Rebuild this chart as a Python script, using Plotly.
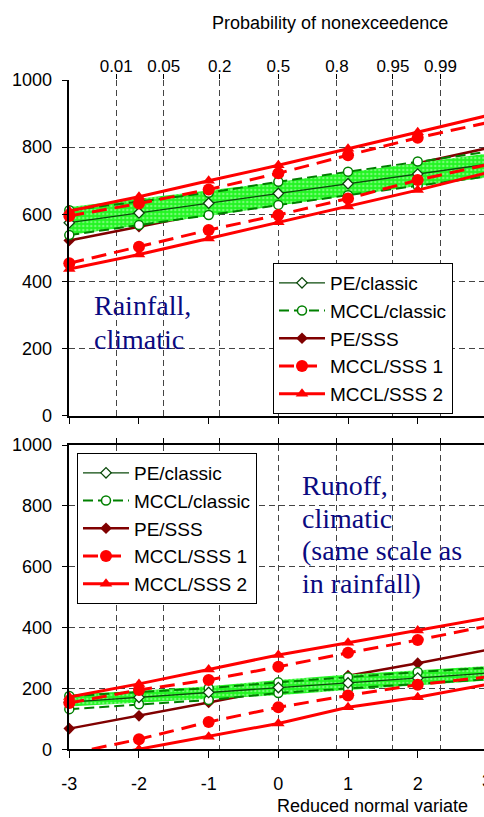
import plotly.graph_objects as go
from statistics import NormalDist

# Reduced normal variate at which each series is evaluated
z = [-3, -2, -1, 0, 1, 2, 3]

# Probability-of-nonexceedence ticks on the top axis
prob_ticks = [0.01, 0.05, 0.2, 0.5, 0.8, 0.95, 0.99]
prob_labels = ["0.01", "0.05", "0.2", "0.5", "0.8", "0.95", "0.99"]

y_ticks = [0, 200, 400, 600, 800, 1000]
x_ticks = [-3, -2, -1, 0, 1, 2, 3]
x_labels = ["-3", "-2", "-1", "0", "1", "2", "3"]

# Rainfall, climatic
r_pe_classic = [575, 604, 633, 662, 691, 720, 749]
r_mccl_classic_hi = [612, 638, 664, 697, 727, 757, 786]
r_mccl_classic_lo = [538, 568, 598, 628, 657, 685, 713]
r_pe_sss = [522, 563, 604, 650, 700, 752, 797]
r_mccl_sss1_hi = [595, 632, 674, 722, 776, 828, 873]
r_mccl_sss1_lo = [454, 503, 553, 598, 647, 702, 748]
r_mccl_sss2_hi = [610, 652, 700, 746, 795, 844, 894]
r_mccl_sss2_lo = [437, 480, 528, 576, 623, 672, 724]
r_band_hi = [622, 646, 670, 696, 725, 753, 781]
r_band_lo = [538, 566, 595, 626, 656, 684, 709]

# Runoff, climatic
f_pe_classic = [155, 171, 187, 203, 218, 234, 250]
f_mccl_classic_hi = [175, 188, 201, 220, 237, 254, 268]
f_mccl_classic_lo = [132, 148, 162, 185, 200, 215, 230]
f_pe_sss = [68, 110, 154, 198, 242, 283, 327]
f_mccl_sss1_hi = [152, 195, 228, 271, 317, 359, 405]
f_mccl_sss1_lo = [-15, 33, 90, 138, 177, 212, 238]
f_mccl_sss2_hi = [172, 215, 262, 310, 350, 390, 432]
f_mccl_sss2_lo = [-42, 0, 41, 85, 138, 171, 213]
f_band_hi = [180, 192, 207, 228, 246, 260, 274]
f_band_lo = [141, 153, 165, 178, 195, 211, 226]

prob_z = [NormalDist().inv_cdf(p) for p in prob_ticks]

W, H = 484, 817
X_LEFT_PX = 69.3
PX_PER_UNIT = 69.68
X_MAX = -3 + (W - X_LEFT_PX) / PX_PER_UNIT

def py(px):
    return 1 - px / H

top_dom = [py(415.7), py(80)]
bot_dom = [py(749.3), py(445)]
x_dom = [X_LEFT_PX / W, 1.0]

SANS = "Arial, Liberation Sans, sans-serif"
SERIF = "Liberation Serif, Times New Roman, serif"

DKGREEN = "#0b4a0b"
GREEN = "#008000"
DKRED = "#800000"
RED = "#ff0000"
GRID = "#444444"

fig = go.Figure()


def add_panel(xa, ya, top_xa, legend, d, clip_low):
    (pe_c, mc_hi, mc_lo, pe_s, s1_hi, s1_lo, s2_hi, s2_lo, b_hi, b_lo) = d
    common = dict(xaxis=xa, yaxis=ya, legend=legend, cliponaxis=False)
    # PE/SSS sits beneath the simulation band
    fig.add_trace(go.Scatter(x=z, y=pe_s, mode="lines+markers", name="PE/SSS",
                             line=dict(color=DKRED, width=2.5),
                             marker=dict(symbol="diamond", size=9, color=DKRED),
                             legendrank=3, **common))
    # simulation band
    fig.add_trace(go.Scatter(x=z, y=b_lo, mode="lines", line=dict(width=0, color="#33ff33"),
                             showlegend=False, hoverinfo="skip", **common))
    fig.add_trace(go.Scatter(x=z, y=b_hi, mode="lines", line=dict(width=0, color="#33ff33"),
                             fill="tonexty",
                             fillpattern=dict(shape=".", bgcolor="#22f522", fgcolor="#c8ffc8",
                                              size=4, solidity=0.3),
                             showlegend=False, hoverinfo="skip", **common))
    for i, yy in enumerate([mc_hi, mc_lo]):
        fig.add_trace(go.Scatter(x=z, y=yy, mode="lines+markers", name="MCCL/classic",
                                 line=dict(color=GREEN, width=2, dash="10px,5px"),
                                 marker=dict(symbol="circle", size=9, color="white",
                                             line=dict(width=1.5, color=GREEN)),
                                 showlegend=(i == 0), legendrank=2, **common))
    fig.add_trace(go.Scatter(x=z, y=pe_c, mode="lines+markers", name="PE/classic",
                             line=dict(color=DKGREEN, width=1.3),
                             marker=dict(symbol="diamond", size=8, color="white",
                                         line=dict(width=1.3, color=DKGREEN)),
                             legendrank=1, **common))
    for i, yy in enumerate([s1_hi, s1_lo]):
        c = dict(common)
        if i == 1 and clip_low:
            c["cliponaxis"] = True
        fig.add_trace(go.Scatter(x=z, y=yy, mode="lines+markers", name="MCCL/SSS 1",
                                 line=dict(color=RED, width=3, dash="15px,8px"),
                                 marker=dict(symbol="circle", size=12, color=RED),
                                 showlegend=(i == 0), legendrank=4, **c))
    for i, yy in enumerate([s2_hi, s2_lo]):
        c = dict(common)
        if i == 1 and clip_low:
            c["cliponaxis"] = True
        fig.add_trace(go.Scatter(x=z, y=yy, mode="lines+markers", name="MCCL/SSS 2",
                                 line=dict(color=RED, width=3),
                                 marker=dict(symbol="triangle-up", size=11, color=RED),
                                 showlegend=(i == 0), legendrank=5, **c))
    # empty trace so the probability axis on top of the panel is drawn
    fig.add_trace(go.Scatter(x=[], y=[], xaxis=top_xa, yaxis=ya, showlegend=False,
                             hoverinfo="skip"))


add_panel("x", "y", "x3", "legend",
          (r_pe_classic, r_mccl_classic_hi, r_mccl_classic_lo, r_pe_sss,
           r_mccl_sss1_hi, r_mccl_sss1_lo, r_mccl_sss2_hi, r_mccl_sss2_lo,
           r_band_hi, r_band_lo), False)
add_panel("x2", "y2", "x4", "legend2",
          (f_pe_classic, f_mccl_classic_hi, f_mccl_classic_lo, f_pe_sss,
           f_mccl_sss1_hi, f_mccl_sss1_lo, f_mccl_sss2_hi, f_mccl_sss2_lo,
           f_band_hi, f_band_lo), True)

tick_font = dict(family=SANS, size=18, color="black")

bottom_x = dict(domain=x_dom, range=[-3, X_MAX], tickvals=x_ticks, ticktext=x_labels,
                ticks="outside", ticklen=7, tickcolor="black", showline=True,
                linecolor="black", linewidth=1.5, showgrid=False, zeroline=False,
                tickfont=tick_font, automargin=False, fixedrange=True)
left_y = dict(range=[0, 1000], tickvals=y_ticks, ticks="outside", ticklen=6,
              tickcolor="black", showline=True, linecolor="black", linewidth=1.5,
              showgrid=True, gridcolor=GRID, gridwidth=1, griddash="6px,4px",
              zeroline=False, tickfont=tick_font, ticklabelstandoff=6,
              automargin=False, fixedrange=True)
top_x = dict(domain=x_dom, range=[-3, X_MAX], tickvals=prob_z, ticktext=prob_labels,
             side="top", ticks="outside", ticklen=5, tickcolor="black", showgrid=True,
             gridcolor=GRID, gridwidth=1, griddash="6px,4px", zeroline=False,
             tickfont=dict(family=SANS, size=17, color="black"), automargin=False,
             ticklabelstandoff=-5, fixedrange=True)

legend_common = dict(xanchor="left", yanchor="top", bgcolor="white", bordercolor="black",
                     borderwidth=1, font=dict(family=SANS, size=19, color="black"),
                     tracegroupgap=0, traceorder="normal", itemwidth=46)

fig.update_layout(
    width=W, height=H, margin=dict(l=0, r=0, t=0, b=0),
    plot_bgcolor="white", paper_bgcolor="white",
    xaxis=dict(bottom_x, anchor="y", showticklabels=False),
    yaxis=dict(left_y, domain=top_dom, anchor="x"),
    xaxis2=dict(bottom_x, anchor="y2", showticklabels=True, ticklabelstandoff=10),
    yaxis2=dict(left_y, domain=bot_dom, anchor="x2"),
    xaxis3=dict(top_x, overlaying="x", anchor="y", showline=False, showticklabels=True),
    xaxis4=dict(top_x, overlaying="x2", anchor="y2", showline=True, linecolor="black",
                linewidth=1.5, showticklabels=False),
    legend=dict(legend_common, x=273 / W, y=py(263)),
    legend2=dict(legend_common, x=77 / W, y=py(453)),
)

annotations = [
    dict(text="Probability of nonexceedence", x=330 / W, y=py(23),
         font=dict(family=SANS, size=18, color="black")),
    dict(text="Reduced normal variate", x=372 / W, y=py(806),
         font=dict(family=SANS, size=18, color="black")),
    dict(text="3", x=(X_LEFT_PX + 6 * PX_PER_UNIT) / W, y=py(781),
         font=dict(family=SANS, size=18, color="black")),
]
rain_lines = [("Rainfall,", 305), ("climatic", 339)]
runoff_lines = [("Runoff,", 485), ("climatic", 518), ("(same scale as", 550), ("in rainfall)", 583)]
for txt, ypx in rain_lines:
    annotations.append(dict(text=txt, x=92 / W, y=py(ypx), xanchor="left",
                            font=dict(family=SERIF, size=28, color="#0a0a80")))
for txt, ypx in runoff_lines:
    annotations.append(dict(text=txt, x=300 / W, y=py(ypx), xanchor="left",
                            font=dict(family=SERIF, size=28, color="#0a0a80")))
for a in annotations:
    a.setdefault("xanchor", "center")
    a.update(xref="paper", yref="paper", yanchor="middle", showarrow=False)
fig.update_layout(annotations=annotations)

fig.write_html("out.html")
